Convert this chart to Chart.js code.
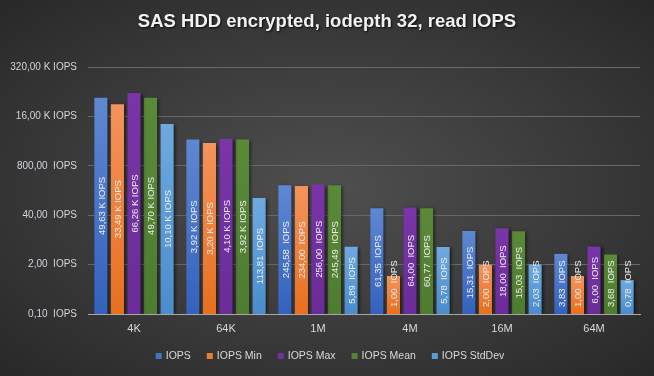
<!DOCTYPE html>
<html>
<head>
<meta charset="utf-8">
<script src="https://cdn.jsdelivr.net/npm/chart.js@4"></script>
<style>
  html, body { margin: 0; padding: 0; }
  body {
    width: 654px; height: 376px; overflow: hidden;
    background: radial-gradient(ellipse at center, #4f4f4f 0%, #3a3a3a 55%, #282828 100%);
  }
  #wrap { width: 654px; height: 376px; position: relative; }
</style>
</head>
<body>
<div id="wrap"><canvas id="grafico"></canvas></div>
<script>
// dados
var categorias = ['4K', '64K', '1M', '4M', '16M', '64M'];
var iops = [49630, 3920, 245.58, 61.35, 15.31, 3.83];
var iopsMin = [33490, 3200, 234.00, 1.00, 2.00, 1.00];
var iopsMax = [66260, 4100, 256.00, 64.00, 18.00, 6.00];
var iopsMean = [49700, 3920, 245.49, 60.77, 15.03, 3.68];
var iopsStdDev = [10100, 113.81, 5.89, 5.78, 2.03, 0.78];
var ticksY = [0.1, 2, 40, 800, 16000, 320000];

var FONTE = '"Liberation Sans", Arial, sans-serif';

function formata(v) {
  if (v >= 1000) {
    return (v / 1000).toFixed(2).replace('.', ',') + ' K IOPS';
  }
  return v.toFixed(2).replace('.', ',') + '  IOPS';
}

// gradiente vertical por barra (mais claro em cima)
function degrade(topo, base) {
  return function (c) {
    var chart = c.chart;
    var area = chart.chartArea;
    if (!area || c.raw === undefined) return base;
    var y = chart.scales.y.getPixelForValue(c.raw);
    var g = chart.ctx.createLinearGradient(0, y, 0, area.bottom);
    g.addColorStop(0, topo);
    g.addColorStop(1, base);
    return g;
  };
}

var sombra = {
  id: 'sombra',
  beforeDatasetsDraw: function (chart) {
    var ctx = chart.ctx;
    ctx.save();
    ctx.shadowColor = 'rgba(0,0,0,0.55)';
    ctx.shadowBlur = 3;
    ctx.shadowOffsetX = 2;
    ctx.shadowOffsetY = 1;
  },
  afterDatasetsDraw: function (chart) {
    chart.ctx.restore();
  }
};

var rotulos = {
  id: 'rotulos',
  afterDatasetsDraw: function (chart) {
    var ctx = chart.ctx;
    var fundo = chart.chartArea.bottom;
    ctx.save();
    ctx.font = '9.5px ' + FONTE;
    ctx.fillStyle = '#ececec';
    ctx.textAlign = 'center';
    ctx.textBaseline = 'middle';
    chart.data.datasets.forEach(function (ds, i) {
      var meta = chart.getDatasetMeta(i);
      meta.data.forEach(function (barra, j) {
        var txt = formata(ds.data[j]);
        var w = ctx.measureText(txt).width;
        var cy = (barra.y + barra.base) / 2;
        var limite = fundo - 7 - w / 2;
        if (cy > limite) cy = limite;
        ctx.save();
        ctx.translate(barra.x + 1, cy);
        ctx.rotate(-Math.PI / 2);
        ctx.fillText(txt, 0, 0);
        ctx.restore();
      });
    });
    ctx.restore();
  }
};

var titulo = {
  id: 'titulo',
  afterDraw: function (chart) {
    var ctx = chart.ctx;
    ctx.save();
    ctx.font = 'bold 18.5px ' + FONTE;
    ctx.fillStyle = '#f2f2f2';
    ctx.textAlign = 'center';
    ctx.textBaseline = 'middle';
    ctx.shadowColor = 'rgba(0,0,0,0.8)';
    ctx.shadowBlur = 2;
    ctx.shadowOffsetX = 1;
    ctx.shadowOffsetY = 1;
    ctx.fillText('SAS HDD encrypted, iodepth 32, read IOPS', 327, 22);
    ctx.restore();
  }
};

// legenda desenhada a mao, centrada embaixo
var legenda = {
  id: 'legenda',
  afterDraw: function (chart) {
    var ctx = chart.ctx;
    var caixa = 6, folga = 4, espaco = 16, y = 356;
    ctx.save();
    ctx.font = '10.5px ' + FONTE;
    ctx.textBaseline = 'middle';
    ctx.textAlign = 'left';
    var ds = chart.data.datasets;
    var total = 0;
    ds.forEach(function (d, i) {
      total += caixa + folga + ctx.measureText(d.label).width;
      if (i < ds.length - 1) total += espaco;
    });
    var x = 330 - total / 2;
    ds.forEach(function (d) {
      ctx.fillStyle = d.legendColor;
      ctx.fillRect(x, y - caixa / 2, caixa, caixa);
      x += caixa + folga;
      ctx.fillStyle = '#d9d9d9';
      ctx.fillText(d.label, x, y);
      x += ctx.measureText(d.label).width + espaco;
    });
    ctx.restore();
  }
};

var ctx = document.getElementById('grafico');
var chartGraph = new Chart(ctx, {
  type: 'bar',
  data: {
    labels: categorias,
    datasets: [
      { label: 'IOPS', data: iops, backgroundColor: degrade('#5f88d2', '#3362bd'), legendColor: '#4472C4' },
      { label: 'IOPS Min', data: iopsMin, backgroundColor: degrade('#f4935c', '#e8701e'), legendColor: '#ED7D31' },
      { label: 'IOPS Max', data: iopsMax, backgroundColor: degrade('#7a35a8', '#6a2c98'), legendColor: '#7030A0' },
      { label: 'IOPS Mean', data: iopsMean, backgroundColor: degrade('#5a8a38', '#4e7c30'), legendColor: '#548235' },
      { label: 'IOPS StdDev', data: iopsStdDev, backgroundColor: degrade('#6eaae0', '#4a8ccc'), legendColor: '#5B9BD5' }
    ]
  },
  options: {
    responsive: true,
    maintainAspectRatio: false,
    animation: false,
    layout: { padding: { top: 67, right: 14, left: 0, bottom: 40 } },
    datasets: { bar: { barPercentage: 0.79, categoryPercentage: 0.9 } },
    scales: {
      x: {
        grid: { display: false, drawTicks: false },
        border: { display: true, color: '#a8a8a8', width: 1 },
        ticks: { color: '#d9d9d9', font: { family: FONTE, size: 11 }, padding: 8 },
        afterFit: function (axis) { axis.height = 22; }
      },
      y: {
        type: 'logarithmic',
        min: 0.1,
        max: 320000,
        afterBuildTicks: function (axis) {
          axis.ticks = ticksY.map(function (v) { return { value: v }; });
        },
        afterFit: function (axis) { axis.width = 88; },
        grid: { color: '#686868', lineWidth: 1, drawTicks: false },
        border: { display: false },
        ticks: {
          color: '#d0d4dc',
          font: { family: FONTE, size: 10 },
          padding: 11,
          callback: function (v) { return formata(v); }
        }
      }
    },
    plugins: {
      legend: { display: false },
      tooltip: { enabled: false }
    }
  },
  plugins: [sombra, rotulos, titulo, legenda]
});
</script>
</body>
</html>
